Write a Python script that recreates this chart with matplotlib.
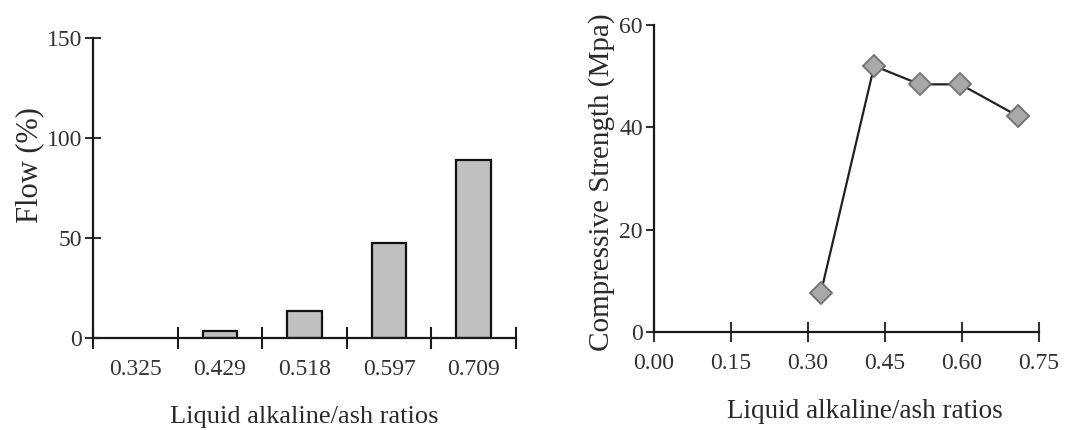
import matplotlib
matplotlib.use("Agg")
import matplotlib.pyplot as plt
import numpy as np

plt.rcParams['font.family'] = ['Liberation Serif', 'DejaVu Serif']

# Flow test results per liquid alkaline/ash ratio
ratio_labels = ["0.325", "0.429", "0.518", "0.597", "0.709"]
flow_pct = [0, 3.5, 13.5, 47.5, 89]

# Compressive strength results
ratios = [0.325, 0.429, 0.518, 0.597, 0.709]
strength_mpa = [7.6, 52.0, 48.4, 48.4, 42.2]

fig = plt.figure(figsize=(10.67, 4.30), dpi=100)
ax1 = fig.add_axes([0.0872, 0.2140, 0.3964, 0.6977])
ax2 = fig.add_axes([0.6129, 0.2279, 0.3608, 0.7140])

fs = 17
axis_color = "#1a1a1a"
text_color = "#2a2a2a"

# ---- left: bar chart of flow ----
pos = np.arange(len(ratio_labels))
edge_widths = [1.6 if v > 0 else 0 for v in flow_pct]
ax1.bar(pos, flow_pct, width=0.41, color="#c0c0c0", edgecolor="#111111",
        linewidth=edge_widths, zorder=2)
ax1.set_xlim(-0.5, len(ratio_labels) - 0.5)
ax1.set_ylim(0, 150)
ax1.set_yticks([0, 50, 100, 150])
ax1.set_xticks(pos)
ax1.set_xticklabels(ratio_labels)
ax1.set_xticks(np.arange(-0.5, len(ratio_labels)), minor=True)
ax1.tick_params(axis='x', which='major', length=0, pad=15, labelsize=fs, colors="#333333")
ax1.tick_params(axis='x', which='minor', direction='inout', length=16, width=1.5, color=axis_color)
ax1.tick_params(axis='y', direction='inout', length=12, width=1.5, pad=2, labelsize=fs,
                colors="#333333")
ax1.set_ylabel("Flow (%)", fontsize=22, labelpad=2, color=text_color)
ax1.yaxis.label.set_y(0.577)
ax1.set_xlabel("Liquid alkaline/ash ratios", fontsize=fs + 2, labelpad=19, color=text_color)

# ---- right: line chart of compressive strength ----
ax2.plot(ratios, strength_mpa, color="#222222", linewidth=1.6, marker="D", markersize=11,
         markerfacecolor="#a9a9a9", markeredgecolor="#707070", markeredgewidth=1.3,
         zorder=3, clip_on=False)
ax2.set_xlim(0, 0.75)
ax2.set_ylim(0, 60)
ax2.set_xticks([0.0, 0.15, 0.30, 0.45, 0.60, 0.75])
ax2.set_xticklabels(["0.00", "0.15", "0.30", "0.45", "0.60", "0.75"])
ax2.set_yticks([0, 20, 40, 60])
ax2.tick_params(axis='x', direction='inout', length=14, width=1.5, pad=8, labelsize=fs,
                colors="#333333")
ax2.tick_params(axis='y', direction='out', length=6, width=1.5, pad=2, labelsize=fs,
                colors="#333333")
ax2.set_ylabel("Compressive Strength (Mpa)", fontsize=21, labelpad=3, color=text_color)
ax2.yaxis.label.set_y(0.489)
ax2.set_xlabel("Liquid alkaline/ash ratios", fontsize=19.5, labelpad=18, color=text_color)
ax2.xaxis.label.set_x(0.548)

for ax in (ax1, ax2):
    for s in ("top", "right"):
        ax.spines[s].set_visible(False)
    for s in ("left", "bottom"):
        ax.spines[s].set_linewidth(1.6)
        ax.spines[s].set_color(axis_color)
        ax.spines[s].set_zorder(2.5)
    for t in ax.xaxis.get_ticklines(minor=True) + ax.xaxis.get_ticklines() + ax.yaxis.get_ticklines():
        t.set_color(axis_color)

fig.savefig("out.png", dpi=100)
